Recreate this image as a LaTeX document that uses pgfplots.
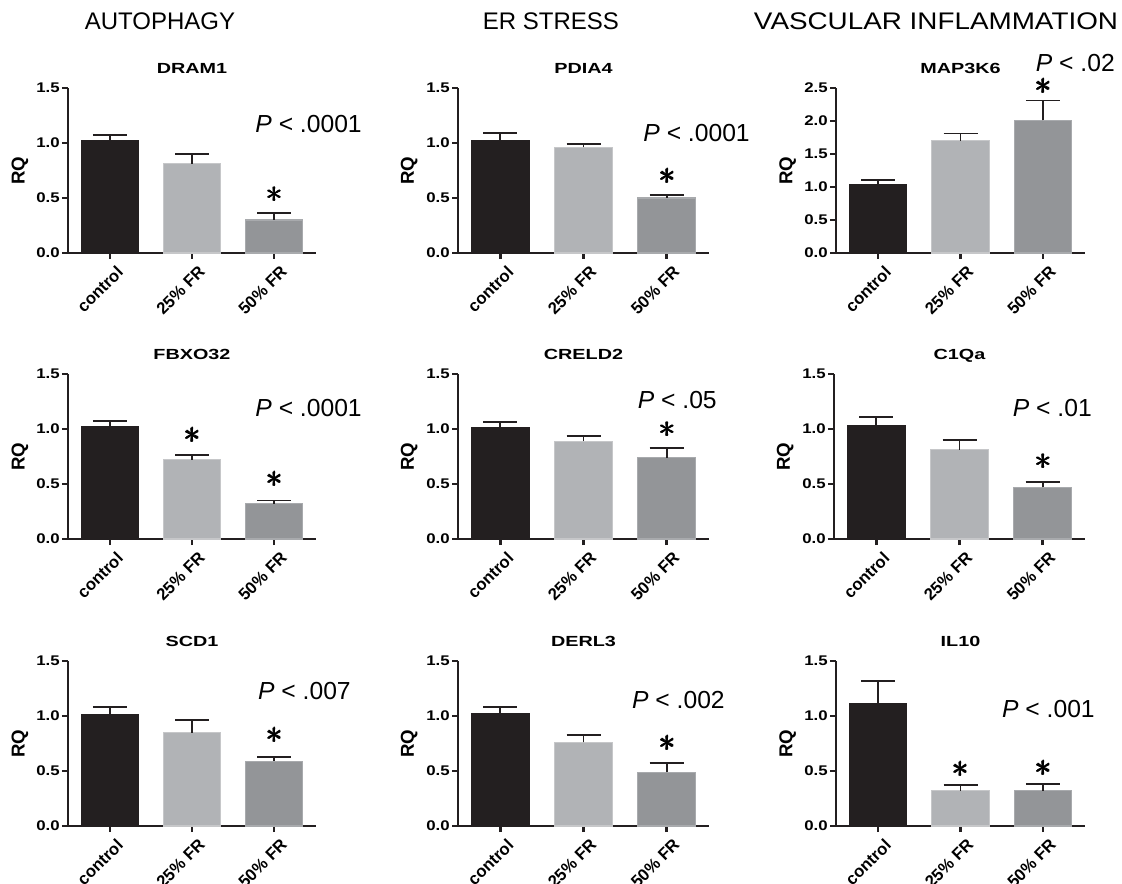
\documentclass[border=0pt]{standalone}
\usepackage{pgfplots}
\pgfplotsset{compat=1.18}
\usepackage{graphicx}
\usepackage{fontspec}
\setmainfont{Liberation Sans}
\definecolor{cA}{HTML}{231F20}
\definecolor{cB}{HTML}{B1B3B6}
\definecolor{cBd}{HTML}{C6C7C9}
\definecolor{cC}{HTML}{939598}
\definecolor{cCd}{HTML}{A8AAAD}
\newcommand\hs[1]{\scalebox{1.2}[1]{#1}}
\newcommand\tts[1]{\scalebox{1.35}[1]{#1}}
\newcommand\bast{\rlap{$\ast$}\kern0.7pt\rlap{$\ast$}\raisebox{0.5pt}{\rlap{$\ast$}}\kern-0.35pt$\ast$}
\newcommand\str[3]{\node[anchor=center,inner sep=0pt,yshift=#3,font=\fontsize{24.88}{25}\selectfont] at (axis cs:#1,#2) {\bast};}
\newcommand\yline[1]{\addplot[line width=2.2pt, color=cA, mark=none, forget plot] coordinates {(-0.51,0) (-0.51,#1)};}
\pgfplotsset{
  panel/.style={
    scale only axis, height=123.75pt,
    xmin=-0.51, xmax=2.51, ymin=0, ymax=1.5,
    axis x line*=bottom, axis y line*=left,
    axis line style={line width=2.2pt, color=cA},
    tick style={line width=2pt, color=cA},
    tick align=outside, major tick length=4.5pt,
    xtick={0,1,2}, xticklabels={control,25\% FR,50\% FR},
    xticklabel style={rotate=45, anchor=north east, xshift=0pt, yshift=-6pt, font=\bfseries\fontsize{12.5}{12.5}\selectfont, inner sep=0pt},
    ytick={0,0.5,1,1.5}, yticklabels={\hs{0.0},\hs{0.5},\hs{1.0},\hs{1.5}},
    yticklabel style={font=\bfseries\fontsize{10.5}{11}\selectfont, inner sep=1.5pt},
    ylabel={RQ},
    ylabel style={font=\bfseries\fontsize{14}{14}\selectfont, at={(axis description cs:-0.194,0.5)}, anchor=center},
    title style={font=\bfseries\fontsize{11}{11}\selectfont, at={(axis description cs:0.5,1)}, anchor=base, yshift=5pt},
    clip=false, bar width=0.7,
  },
  errs/.style={error bars/.cd, y dir=plus, y explicit,
    error bar style={line width=1.4pt, color=cA},
    error mark options={line width=1.4pt, color=cA, mark size=12.75pt, rotate=90}},
  b0/.style={ybar, bar shift=0pt, fill=cA, draw=cA, line width=0.8pt, mark=none, errs},
  b1/.style={ybar, bar shift=0pt, fill=cB, draw=cBd, line width=0.8pt, mark=none, errs},
  b2/.style={ybar, bar shift=0pt, fill=cC, draw=cCd, line width=0.8pt, mark=none, errs},
}
\begin{document}
\begin{tikzpicture}
\path[use as bounding box] (0,0) rectangle (841.5pt,-663pt);

% ---- Row 1 ----
\begin{axis}[panel, width=186pt, at={(51pt,-189.75pt)}, anchor=south west, title={\tts{DRAM1}}]
\yline{1.5}
\addplot[b0] coordinates {(0,1.02) +- (0,0.05)};
\addplot[b1] coordinates {(1,0.81) +- (0,0.09)};
\addplot[b2] coordinates {(2,0.30) +- (0,0.06)};
\str{2}{0.36}{14pt}
\end{axis}

\begin{axis}[panel, width=188.25pt, at={(343.5pt,-189.75pt)}, anchor=south west, title={\tts{PDIA4}}]
\yline{1.5}
\addplot[b0] coordinates {(0,1.02) +- (0,0.07)};
\addplot[b1] coordinates {(1,0.96) +- (0,0.03)};
\addplot[b2] coordinates {(2,0.50) +- (0,0.03)};
\str{2}{0.53}{14pt}
\end{axis}

\begin{axis}[panel, width=186.75pt, at={(627pt,-189.75pt)}, anchor=south west, title={\tts{MAP3K6}},
  ymax=2.5, ytick={0,0.5,1,1.5,2,2.5}, yticklabels={\hs{0.0},\hs{0.5},\hs{1.0},\hs{1.5},\hs{2.0},\hs{2.5}}]
\yline{2.5}
\addplot[b0] coordinates {(0,1.03) +- (0,0.07)};
\addplot[b1] coordinates {(1,1.70) +- (0,0.11)};
\addplot[b2] coordinates {(2,2.01) +- (0,0.30)};
\str{2}{2.31}{10.5pt}
\end{axis}

% ---- Row 2 ----
\begin{axis}[panel, width=186pt, at={(51pt,-404.25pt)}, anchor=south west, title={\tts{FBXO32}}]
\yline{1.5}
\addplot[b0] coordinates {(0,1.02) +- (0,0.05)};
\addplot[b1] coordinates {(1,0.72) +- (0,0.04)};
\addplot[b2] coordinates {(2,0.32) +- (0,0.03)};
\str{1}{0.76}{15pt}
\str{2}{0.35}{16pt}
\end{axis}

\begin{axis}[panel, width=188.25pt, at={(343.5pt,-404.25pt)}, anchor=south west, title={\tts{CRELD2}}]
\yline{1.5}
\addplot[b0] coordinates {(0,1.01) +- (0,0.05)};
\addplot[b1] coordinates {(1,0.89) +- (0,0.05)};
\addplot[b2] coordinates {(2,0.74) +- (0,0.09)};
\str{2}{0.83}{13.5pt}
\end{axis}

\begin{axis}[panel, width=188.25pt, at={(625.5pt,-404.25pt)}, anchor=south west, title={\tts{C1Qa}}]
\yline{1.5}
\addplot[b0] coordinates {(0,1.03) +- (0,0.08)};
\addplot[b1] coordinates {(1,0.81) +- (0,0.09)};
\addplot[b2] coordinates {(2,0.47) +- (0,0.05)};
\str{2}{0.52}{15pt}
\end{axis}

% ---- Row 3 ----
\begin{axis}[panel, width=186pt, at={(51pt,-619.5pt)}, anchor=south west, title={\tts{SCD1}}]
\yline{1.5}
\addplot[b0] coordinates {(0,1.01) +- (0,0.07)};
\addplot[b1] coordinates {(1,0.85) +- (0,0.11)};
\addplot[b2] coordinates {(2,0.59) +- (0,0.04)};
\str{2}{0.63}{16pt}
\end{axis}

\begin{axis}[panel, width=188.25pt, at={(343.5pt,-619.5pt)}, anchor=south west, title={\tts{DERL3}}]
\yline{1.5}
\addplot[b0] coordinates {(0,1.02) +- (0,0.06)};
\addplot[b1] coordinates {(1,0.76) +- (0,0.07)};
\addplot[b2] coordinates {(2,0.49) +- (0,0.08)};
\str{2}{0.57}{15pt}
\end{axis}

\begin{axis}[panel, width=186.75pt, at={(627pt,-619.5pt)}, anchor=south west, title={\tts{IL10}}]
\yline{1.5}
\addplot[b0] coordinates {(0,1.11) +- (0,0.21)};
\addplot[b1] coordinates {(1,0.32) +- (0,0.05)};
\addplot[b2] coordinates {(2,0.32) +- (0,0.06)};
\str{1}{0.37}{12pt}
\str{2}{0.38}{12pt}
\end{axis}

% ---- Column headers ----
\node[font=\fontsize{18}{18}\selectfont, inner sep=0pt] at (120pt,-15.75pt) {AUTOPHAGY};
\node[font=\fontsize{18}{18}\selectfont, inner sep=0pt] at (413.25pt,-15.75pt) {ER STRESS};
\node[font=\fontsize{18}{18}\selectfont, inner sep=0pt] at (702pt,-15.75pt) {\scalebox{1.16}[1]{VASCULAR INFLAMMATION}};

% ---- P values ----
\begin{scope}[every node/.style={anchor=east, inner sep=0pt, font=\fontsize{18.5}{19}\selectfont}]
\node at (271.5pt,-93pt) {\textit{P} < .0001};
\node at (562.5pt,-99.75pt) {\textit{P} < .0001};
\node at (836.25pt,-47.25pt) {\textit{P} < .02};
\node at (271.5pt,-306pt) {\textit{P} < .0001};
\node at (537.75pt,-300pt) {\textit{P} < .05};
\node at (819pt,-306pt) {\textit{P} < .01};
\node at (263.25pt,-518.25pt) {\textit{P} < .007};
\node at (543.75pt,-525pt) {\textit{P} < .002};
\node at (821.25pt,-531.75pt) {\textit{P} < .001};
\end{scope}
\end{tikzpicture}
\end{document}
